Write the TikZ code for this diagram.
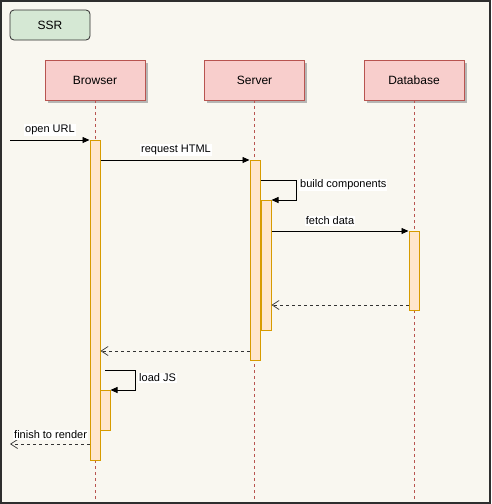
\documentclass[tikz,border=0pt]{standalone}
\usepackage{fontspec}
\setmainfont{Liberation Sans}
\usetikzlibrary{arrows.meta,positioning,shadows}
\definecolor{bgc}{HTML}{F9F7F0}
\definecolor{frm}{HTML}{2E2E2E}
\definecolor{actorfill}{HTML}{F8CECC}
\definecolor{actordraw}{HTML}{B85450}
\definecolor{actfill}{HTML}{FFE6CC}
\definecolor{actdraw}{HTML}{D79B00}
\definecolor{ssrfill}{HTML}{D5E8D4}
\tikzset{
  actor/.style={draw=actordraw, fill=actorfill, minimum width=100pt, minimum height=40pt, inner sep=0pt, font=\fontsize{12}{14}\selectfont, line width=0.8pt,
    drop shadow={shadow xshift=2.5pt, shadow yshift=-2.5pt, fill=black!35, opacity=0.8}},
  lifeline/.style={draw=actordraw, dashed, dash pattern=on 3pt off 3pt, line width=0.7pt},
  actbox/.style={draw=actdraw, fill=actfill, line width=1pt, inner sep=0pt, minimum width=10pt, anchor=north},
  msg/.style={-{Triangle[length=7pt,width=6pt]}, line width=0.8pt},
  ret/.style={-{Straight Barb[length=7pt,width=9pt,line width=0.7pt]}, dashed, dash pattern=on 3pt off 3pt, line width=0.8pt, draw=black!80},
  lbl/.style={fill=white, inner sep=1pt, font=\fontsize{11}{13}\selectfont},
}
\begin{document}
\begin{tikzpicture}[x=1pt,y=-1pt]
\useasboundingbox (0,0) rectangle (491,504);
\fill[bgc] (0,0) rectangle (491,504);
\draw[frm, line width=2pt] (1,1) rectangle (490,503);
% title
\node[draw=frm, fill=ssrfill, rounded corners=4pt, line width=0.8pt, minimum width=80pt, minimum height=30pt, inner sep=0pt, font=\fontsize{12}{14}\selectfont] (ssr) at (50,25) {SSR};
% actors
\node[actor] (browser) at (95,80) {Browser};
\node[actor] (server) at (254.5,80) {Server};
\node[actor] (db) at (414,80) {Database};
% lifelines
\coordinate (bEnd) at (95,502);
\coordinate (sEnd) at (254.5,502);
\coordinate (dEnd) at (414,502);
\draw[lifeline] (browser.south) -- (bEnd);
\draw[lifeline] (server.south) -- (sEnd);
\draw[lifeline] (db.south) -- (dEnd);
% activations
\node[actbox, minimum height=320pt] (bA) at (95,140) {};
\node[actbox, minimum height=200pt] (sA) at (255,160) {};
\node[actbox, minimum height=130pt] (sB) at (266,200) {};
\node[actbox, minimum height=79pt] (dA) at (414,231) {};
\node[actbox, minimum height=40pt] (bB) at (105,390) {};
% open URL
\coordinate (start) at (10,140);
\draw[msg] (start) -- (bA.north west);
\node[lbl] (lopen) at (50,130) {open URL};
% request HTML
\draw[msg] (bA.north east |- 0,160) -- (sA.north west);
\node[lbl] (lreq) at (176,150) {request HTML};
% build components
\draw[msg] (sA.east |- 0,180) -- (296,180) -- (296,200) -- (sB.north east);
\node[lbl, anchor=west] (lbuild) at (299,185) {build components};
% fetch data
\draw[msg] (sB.east |- 0,231) -- (dA.north west);
\node[lbl] (lfetch) at (330,221) {fetch data};
% return from db
\draw[ret] (dA.west |- 0,305) -- (sB.east |- 0,305);
% return from server
\draw[ret] (sA.west |- 0,351) -- (bA.east |- 0,351);
% load JS
\draw[msg] (105,370) -- (135,370) -- (135,390) -- (bB.north east);
\node[lbl, anchor=west] (lload) at (138,378) {load JS};
% finish to render
\coordinate (fin) at (10,444);
\draw[ret] (bA.west |- 0,444) -- (fin);
\node[lbl, anchor=west] (lfin) at (13,435) {finish to render};
\end{tikzpicture}
\end{document}
